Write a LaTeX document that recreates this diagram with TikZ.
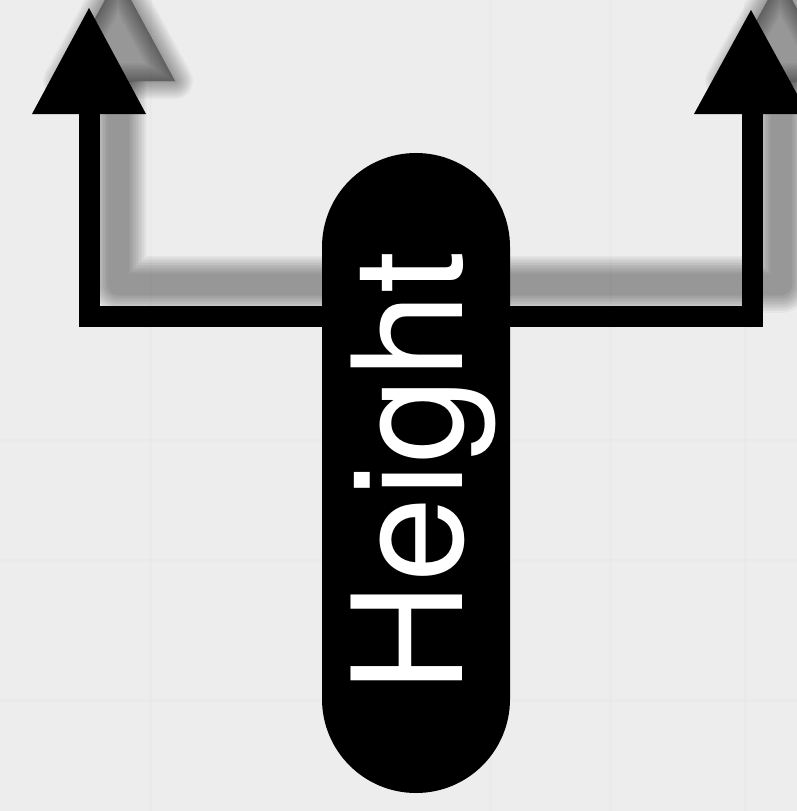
\documentclass[tikz,border=0pt]{standalone}
\usepackage{fontspec}
\setmainfont{TeX Gyre Heros}
\begin{document}
\begin{tikzpicture}[x=1pt,y=-1pt,
  barline/.style={line width=21pt, line join=miter, line cap=butt},
  headfill/.style={fill=black},
  shadowstroke/.style={draw=black, fill=black, opacity=0.032, line join=round}
]
\useasboundingbox (0,0) rectangle (797,811);
\fill[color={rgb,255:red,238;green,237;blue,238}] (0,0) rectangle (797,811);
% faint paper grid
\foreach \xx in {150,490,610,745} \draw[white!90!black, opacity=0.25, line width=3pt] (\xx,0) -- (\xx,811);
\foreach \yy in {440,560,700} \draw[white!90!black, opacity=0.25, line width=3pt] (0,\yy) -- (797,\yy);

\coordinate (lhead) at (89,113);
\coordinate (lcorner) at (89,316);
\coordinate (rcorner) at (752,316);
\coordinate (rhead) at (752,113);

% blurred shadow
\foreach \w in {0,3,...,36} {
  \draw[shadowstroke, fill=none, line width={21+\w}]
    ([shift={(29,-32)}]lhead) -- ([shift={(29,-32)}]lcorner) -- ([shift={(29,-32)}]rcorner) -- ([shift={(29,-32)}]rhead);
  \draw[shadowstroke, line width=\w] (61,81) -- (118,-24) -- (175,81) -- cycle;
  \draw[shadowstroke, line width=\w] (723,81) -- (780,-22) -- (837,81) -- cycle;
}

% bracket with arrows
\draw[barline] (lhead) -- (lcorner) -- (rcorner) -- (rhead);
\fill[headfill] (32,114) -- (89,8) -- (146,114) -- cycle;
\fill[headfill] (694,114) -- (751,10) -- (808,114) -- cycle;

% pill
\node[fill=black, minimum width=188pt, minimum height=640pt, rounded corners=94pt, inner sep=0pt] (pill) at (416,473) {};
\node[rotate=90, anchor=base, inner sep=0pt, text=white, font=\fontsize{153}{160}\selectfont] (label) at (462,472) {Height};
\end{tikzpicture}
\end{document}
